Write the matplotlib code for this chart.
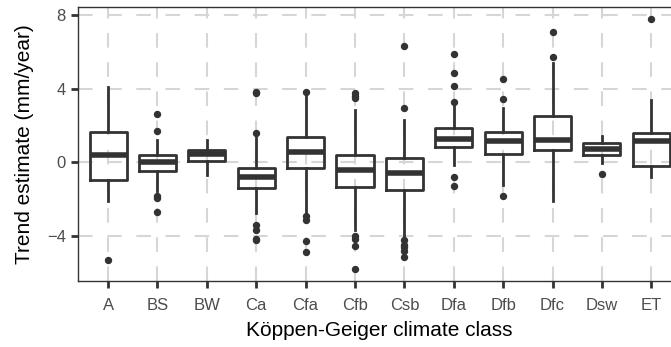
import matplotlib.pyplot as plt

plt.rcParams['font.family'] = ['Liberation Sans', 'DejaVu Sans']

classes = ['A', 'BS', 'BW', 'Ca', 'Cfa', 'Cfb', 'Csb', 'Dfa', 'Dfb', 'Dfc', 'Dsw', 'ET']
whislo = [-2.1, -1.57, -0.66, -2.74, -2.74, -3.64, -4.03, -0.12, -1.2, -2.1, -0.03, -0.81]
q1 = [-0.97, -0.45, 0.07, -1.4, -0.32, -1.33, -1.51, 0.86, 0.47, 0.65, 0.38, -0.18]
med = [0.4, 0.02, 0.47, -0.79, 0.56, -0.39, -0.57, 1.26, 1.14, 1.23, 0.72, 1.14]
q3 = [1.64, 0.42, 0.69, -0.3, 1.39, 0.38, 0.24, 1.84, 1.66, 2.54, 1.05, 1.62]
whishi = [4.1, 1.23, 1.23, 1.4, 3.7, 2.85, 2.3, 3.2, 2.94, 5.37, 1.46, 3.39]
outliers = [
    [-5.3],
    [2.6, 1.7, -1.8, -1.95, -2.68],
    [],
    [1.62, 3.84, 3.75, -3.37, -3.67, -4.14, -4.2],
    [3.84, -2.92, -3.1, -4.27, -4.86],
    [3.75, 3.6, 3.5, -4.0, -4.15, -4.5, -5.76],
    [2.94, 6.32, -4.18, -4.45, -4.6, -4.8, -5.11],
    [3.3, 4.15, 4.83, 5.88, -0.81, -1.3],
    [3.43, 4.54, -1.84],
    [5.7, 7.08],
    [-0.65],
    [7.77],
]

stats = []
for i in range(len(classes)):
    stats.append({'label': classes[i], 'whislo': whislo[i], 'q1': q1[i], 'med': med[i],
                  'q3': q3[i], 'whishi': whishi[i], 'fliers': outliers[i]})

dark = '#333333'
fig = plt.figure(figsize=(6.71, 3.47), dpi=100)
# panel runs past the right edge of the picture, as in the reference
ax = fig.add_axes([78.4 / 671, 1 - 281 / 347, (681 - 78.4) / 671, (281 - 7) / 347])

ax.bxp(stats, positions=range(1, len(classes) + 1), widths=0.75, showcaps=False,
       boxprops=dict(color=dark, linewidth=2.0),
       whiskerprops=dict(color=dark, linewidth=2.0),
       medianprops=dict(color=dark, linewidth=4),
       flierprops=dict(marker='o', markerfacecolor=dark, markeredgecolor=dark, markersize=4.3),
       zorder=3)

ax.set_xlim(0.4, 12.6)
ax.set_ylim(-6.42, 8.42)
ax.set_yticks([-4, 0, 4, 8])
ax.set_xticks(range(1, len(classes) + 1))
ax.set_xticklabels(classes)
ax.grid(True, color='#d6d6d6', linewidth=1.5, linestyle=(0, (7, 7)), zorder=0)
ax.set_axisbelow(True)
for s in ax.spines.values():
    s.set_color(dark)
    s.set_linewidth(1.0)
ax.tick_params(colors=dark, length=5, width=2, labelcolor='#4d4d4d', labelsize=12)
ax.tick_params(axis='x', pad=7)
ax.tick_params(axis='y', pad=4)
ax.set_xlabel('Köppen-Geiger climate class', fontsize=15, labelpad=6)
ax.set_ylabel('Trend estimate (mm/year)', fontsize=15, labelpad=9)

fig.savefig('out.png', dpi=100)
